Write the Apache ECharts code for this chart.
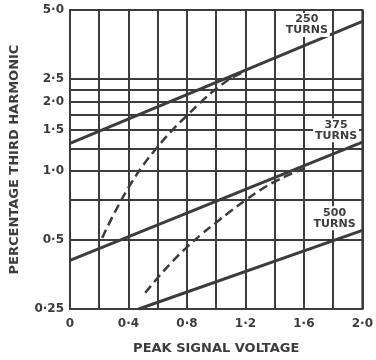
<!DOCTYPE html>
<html>
<head>
<meta charset="utf-8">
<script src="https://cdn.jsdelivr.net/npm/echarts@6/dist/echarts.min.js"></script>
<style>
  html, body { margin: 0; padding: 0; background: #fff; }
  #chart { width: 376px; height: 360px; }
</style>
</head>
<body>
<div id="chart"></div>
<script>
// straight lines (on the log scale) for each winding
const line250X = [0, 2.0];
const line250Y = [1.315, 4.46];
const line375X = [0, 2.0];
const line375Y = [0.407, 1.33];
const line500X = [0.47, 2.0];
const line500Y = [0.25, 0.55];

// dashed curves
const dashUpperX = [0.22, 0.3, 0.4, 0.5, 0.6, 0.7, 0.8, 0.9, 1.0, 1.1, 1.2];
const dashUpperY = [0.51, 0.647, 0.843, 1.055, 1.27, 1.5, 1.735, 2.0, 2.27, 2.52, 2.71];
const dashLowerX = [0.515, 0.6, 0.7, 0.8, 0.9, 1.0, 1.1, 1.2, 1.3, 1.4, 1.5, 1.6];
const dashLowerY = [0.294, 0.342, 0.402, 0.465, 0.529, 0.595, 0.667, 0.743, 0.822, 0.896, 0.961, 1.02];

// horizontal rulings and y labels
const gridValues = [2.5, 2.25, 2.0, 1.75, 1.5, 1.25, 1.0, 0.75, 0.5];
const yLabelValues = [5, 2.5, 2.0, 1.5, 1.0, 0.5, 0.25];
const yLabelTexts = ['5·0', '2·5', '2·0', '1·5', '1·0', '0·5', '0·25'];

const curveNames = ['250\nTURNS', '375\nTURNS', '500\nTURNS'];

const ink = '#3c3c3c';
const font = 'DejaVu Sans';

const pairs = (xs, ys) => xs.map((x, i) => [x, ys[i]]);

const ruleData = gridValues.map(v => ({ yAxis: v, label: { show: false } }))
  .concat(yLabelValues.map((v, i) => ({
    yAxis: v,
    lineStyle: { color: (v === 5 || v === 0.25) ? 'rgba(0,0,0,0)' : ink },
    label: { show: true, formatter: yLabelTexts[i], color: ink }
  })));

const tagLabel = {
  show: true,
  position: 'inside',
  color: ink,
  fontFamily: font,
  fontWeight: 'bold',
  fontSize: 11,
  lineHeight: 11,
  backgroundColor: '#fff',
  padding: [1, 2]
};

const solid = (name, data, tag) => ({
  name: name,
  type: 'line',
  data: data,
  symbol: 'none',
  z: 3,
  lineStyle: { color: ink, width: 3 },
  markPoint: {
    z: 10,
    symbol: 'rect',
    symbolSize: 1,
    itemStyle: { color: 'rgba(0,0,0,0)' },
    label: tagLabel,
    data: [{ coord: tag, value: name, label: { formatter: name } }]
  }
});

const dashed = (name, data) => ({
  name: name,
  type: 'line',
  data: data,
  symbol: 'none',
  smooth: 0.4,
  z: 3,
  lineStyle: { color: ink, width: 2.5, type: [9, 5] }
});

const chart = echarts.init(document.getElementById('chart'));
chart.setOption({
  backgroundColor: '#fff',
  animation: false,
  grid: {
    left: 67, right: 13, top: 10, bottom: 43,
    show: true, borderColor: ink, borderWidth: 2
  },
  xAxis: {
    type: 'value',
    min: 0, max: 2.0, interval: 0.2,
    name: 'PEAK SIGNAL VOLTAGE',
    nameLocation: 'middle',
    nameGap: 33,
    nameTextStyle: { color: ink, fontFamily: font, fontWeight: 'bold', fontSize: 13 },
    axisLine: { show: true, lineStyle: { color: ink, width: 2 } },
    axisTick: { show: false },
    splitLine: { show: true, lineStyle: { color: ink, width: 2 } },
    axisLabel: {
      color: ink, fontFamily: font, fontWeight: 'bold', fontSize: 12, margin: 9,
      formatter: v => {
        const t = Math.round(v * 10);
        if (t === 0) return '0';
        return t % 4 === 0 ? (t / 10).toFixed(1).replace('.', '·') : '';
      }
    }
  },
  yAxis: {
    type: 'log',
    logBase: 10,
    min: 0.25, max: 5,
    name: 'PERCENTAGE THIRD HARMONIC',
    nameLocation: 'middle',
    nameGap: 49,
    nameTextStyle: { color: ink, fontFamily: font, fontWeight: 'bold', fontSize: 13 },
    axisLine: { show: true, lineStyle: { color: ink, width: 2 } },
    axisTick: { show: false },
    axisLabel: { show: false },
    splitLine: { show: false }
  },
  series: [
    {
      name: 'rules',
      type: 'line',
      data: [],
      silent: true,
      markLine: {
        z: 1,
        silent: true,
        symbol: ['none', 'none'],
        lineStyle: { color: ink, width: 2, type: 'solid' },
        label: {
          position: 'start', distance: 6, color: ink,
          fontFamily: font, fontWeight: 'bold', fontSize: 12
        },
        data: ruleData
      }
    },
    solid(curveNames[0], pairs(line250X, line250Y), [1.62, 4.3]),
    solid(curveNames[1], pairs(line375X, line375Y), [1.82, 1.5]),
    solid(curveNames[2], pairs(line500X, line500Y), [1.81, 0.62]),
    dashed('upper dashed', pairs(dashUpperX, dashUpperY)),
    dashed('lower dashed', pairs(dashLowerX, dashLowerY))
  ]
});
</script>
</body>
</html>
